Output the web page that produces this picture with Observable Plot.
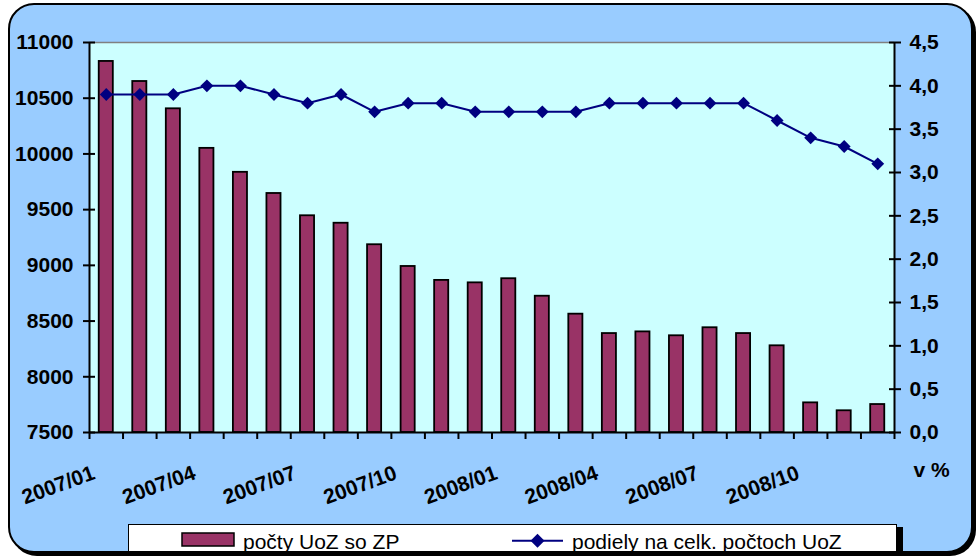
<!DOCTYPE html>
<html><head><meta charset="utf-8">
<script src="https://cdn.jsdelivr.net/npm/d3@7"></script>
<script src="https://cdn.jsdelivr.net/npm/@observablehq/plot@0.6"></script>
<style>
html,body{margin:0;padding:0;background:#fff;}
#page{position:relative;width:976px;height:557px;overflow:hidden;font-family:"Liberation Sans",Arial,sans-serif;}
#box{position:absolute;left:8px;top:3px;width:965px;height:550px;box-sizing:border-box;border:2px solid #000;border-radius:26px;background:#99CCFF;box-shadow:3px 3px 0 #000;}
#chart{position:absolute;left:0;top:0;}
#legend{position:absolute;left:128px;top:524px;width:769px;height:28px;box-sizing:border-box;border:1px solid #000;background:#fff;box-shadow:6px 3px 0 #000;}
#legend .lt{position:absolute;top:6px;font-size:21px;line-height:21px;white-space:nowrap;color:#000;}
#legend svg{position:absolute;}
</style></head>
<body>
<div id="page">
  <div id="box"></div>
  <div id="chart"></div>
  <div id="legend">
    <svg style="left:52px;top:7px" width="56" height="16"><rect x="1" y="1" width="52" height="13" fill="#993366" stroke="#000" stroke-width="1.5"/></svg>
    <span class="lt" style="left:114px">počty UoZ so ZP</span>
    <svg style="left:382px;top:7px" width="54" height="18"><line x1="1" y1="8.7" x2="52" y2="8.7" stroke="#000080" stroke-width="2"/><path d="M26.5,1.7 L33.5,8.7 L26.5,15.7 L19.5,8.7 Z" fill="#000080"/></svg>
    <span class="lt" style="left:443px">podiely na celk. počtoch UoZ</span>
  </div>
</div>
<script>
const months = ["2007/01","2007/02","2007/03","2007/04","2007/05","2007/06","2007/07","2007/08","2007/09","2007/10","2007/11","2007/12",
                "2008/01","2008/02","2008/03","2008/04","2008/05","2008/06","2008/07","2008/08","2008/09","2008/10","2008/11","2008/12"];
const counts = [10830,10650,10405,10050,9835,9645,9445,9378,9185,8990,8865,8843,
                8880,8723,8562,8388,8403,8368,8440,8388,8278,7766,7695,7751];
const shares = [3.9,3.9,3.9,4.0,4.0,3.9,3.8,3.9,3.7,3.8,3.8,3.7,
                3.7,3.7,3.7,3.8,3.8,3.8,3.8,3.8,3.6,3.4,3.3,3.1];
const xTickLabels = ["2007/01","2007/04","2007/07","2007/10","2008/01","2008/04","2008/07","2008/10"];
const leftTicks = [7500,8000,8500,9000,9500,10000,10500,11000];
const rightTicks = [0,0.5,1,1.5,2,2.5,3,3.5,4,4.5];
const rightUnit = "v %";

const W = 976, H = 557, mL = 89, mR = 82, mT = 42, mB = 125;
const step = (W - mL - mR) / months.length;
const yMin = leftTicks[0], yMax = leftTicks[leftTicks.length - 1];
const pMax = rightTicks[rightTicks.length - 1];
const toY = p => yMin + p / pMax * (yMax - yMin);
const fromY = c => (c - yMin) / (yMax - yMin) * pMax;
const data = months.map((m, i) => ({month: m, count: counts[i], share: shares[i]}));

const chart = Plot.plot({
  width: W, height: H,
  marginLeft: mL, marginRight: mR, marginTop: mT, marginBottom: mB,
  style: {background: "transparent", fontFamily: "'Liberation Sans', Arial, sans-serif", fontSize: "21px", fontWeight: "bold", color: "#000", overflow: "visible"},
  x: {type: "band", domain: months, paddingInner: 0.58, paddingOuter: 0.29, round: false},
  y: {domain: [yMin, yMax]},
  marks: [
    Plot.frame({fill: "#CCFFFF"}),
    Plot.ruleY([yMax], {stroke: "#808080", strokeWidth: 1.5}),
    Plot.barY(data, {x: "month", y1: yMin, y2: "count", fill: "#993366", stroke: "#000", strokeWidth: 1.8}),
    Plot.line(data, {x: "month", y: d => toY(d.share), stroke: "#000080", strokeWidth: 2}),
    Plot.dot(data, {x: "month", y: d => toY(d.share), symbol: "diamond2", r: 5.8, fill: "#000080"}),
    Plot.ruleY([yMin], {stroke: "#000", strokeWidth: 2}),
    Plot.ruleX([months[0]], {y1: yMin, y2: yMax, dx: -step / 2, stroke: "#000", strokeWidth: 2}),
    Plot.ruleX([months[months.length - 1]], {y1: yMin, y2: yMax, dx: step / 2, stroke: "#000", strokeWidth: 2}),
    // x ticks at category boundaries
    Plot.axisX({ticks: months, tickSize: 7, tickFormat: () => "", label: null, dx: -step / 2, strokeWidth: 2}),
    Plot.axisX({ticks: [months[months.length - 1]], tickSize: 7, tickFormat: () => "", label: null, dx: step / 2, strokeWidth: 2}),
    // rotated x labels
    Plot.text(xTickLabels, {x: d => d, frameAnchor: "bottom", rotate: -20, textAnchor: "end", lineAnchor: "bottom", dx: -10, dy: 46, fill: "#000"}),
    // left axis
    Plot.axisY({ticks: leftTicks, anchor: "left", tickSize: 12, dx: 6, tickFormat: () => "", label: null, strokeWidth: 2}),
    Plot.axisY({ticks: leftTicks, anchor: "left", tickSize: 0, tickPadding: 16, tickFormat: d => String(d), label: null, fill: "#000"}),
    // right axis
    Plot.axisY({ticks: rightTicks.map(toY), anchor: "right", tickSize: 12, dx: -6, tickFormat: () => "", label: null, strokeWidth: 2}),
    Plot.axisY({ticks: rightTicks.map(toY), anchor: "right", tickSize: 0, tickPadding: 15, tickFormat: c => fromY(c).toFixed(1).replace(".", ","), label: null, fill: "#000"}),
    Plot.text([rightUnit], {frameAnchor: "bottom-right", textAnchor: "start", lineAnchor: "bottom", dx: 19, dy: 44, fill: "#000"})
  ]
});
document.getElementById("chart").appendChild(chart);
</script>
</body></html>
